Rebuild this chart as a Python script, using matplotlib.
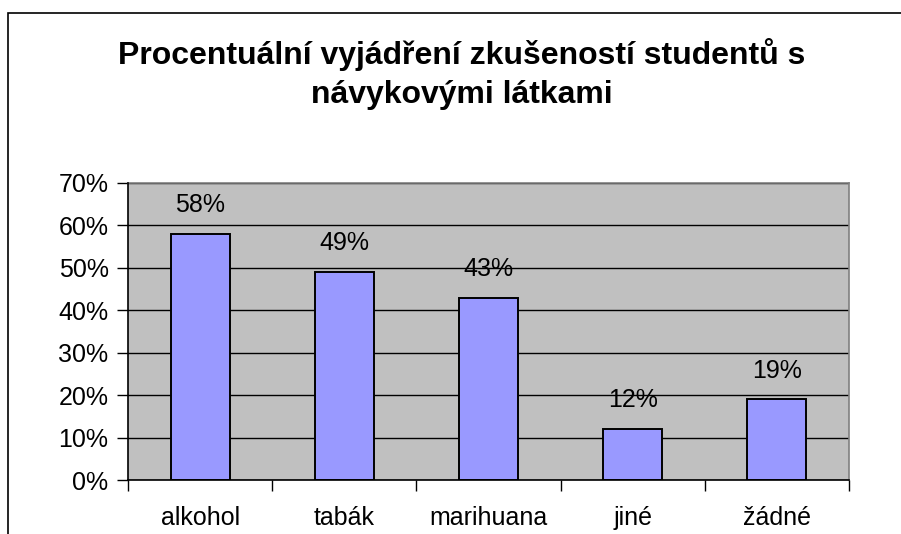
import matplotlib.pyplot as plt
from matplotlib.patches import Rectangle
from matplotlib.ticker import MultipleLocator, FuncFormatter

categories = ["alkohol", "tabák", "marihuana", "jiné", "žádné"]
values = [0.58, 0.49, 0.43, 0.12, 0.19]
labels = ["58%", "49%", "43%", "12%", "19%"]

title = "Procentuální vyjádření zkušeností studentů s\nnávykovými látkami"

plt.rcParams['font.family'] = ['Liberation Sans', 'DejaVu Sans']

W, H = 901, 534
fig = plt.figure(figsize=(W / 100, H / 100), dpi=100)

# outer chart border (runs off the right and bottom edges)
fig.patches.append(Rectangle((8 / W, -0.05), 1.2, 1 - 13 / H + 0.05,
                             transform=fig.transFigure, fill=False,
                             edgecolor='black', linewidth=1.2))

left, right, top, bottom = 128, 849, 183, 480
ax = fig.add_axes([left / W, 1 - bottom / H, (right - left) / W, (bottom - top) / H])
ax.set_facecolor('#C0C0C0')

x = range(len(categories))
ax.bar(x, values, width=0.41, color='#9999FF', edgecolor='black', linewidth=1.4, zorder=3)

for i, (v, lab) in enumerate(zip(values, labels)):
    ax.annotate(lab, (i, v), xytext=(0, 12), textcoords='offset points',
                ha='center', va='bottom', fontsize=18)

ax.set_xlim(-0.5, len(categories) - 0.5)
ax.set_ylim(0, 0.7)
ax.yaxis.set_major_locator(MultipleLocator(0.1))
ax.yaxis.set_major_formatter(FuncFormatter(lambda v, p: f"{v * 100:.0f}%"))
ax.grid(axis='y', color='black', linewidth=1.0, zorder=1)

ax.set_xticks([i + 0.5 for i in range(-1, len(categories))])
ax.set_xticklabels([])
ax.set_xticks(list(x), minor=True)
ax.set_xticklabels(categories, minor=True, fontsize=18)
ax.tick_params(axis='x', which='minor', length=0, pad=19)
ax.tick_params(axis='x', which='major', length=8, width=1, color='black', direction='out')
ax.tick_params(axis='y', length=8, width=1, labelsize=18, pad=6)

for side in ['top', 'right']:
    ax.spines[side].set_color('#808080')
    ax.spines[side].set_linewidth(1.2)
for side in ['left', 'bottom']:
    ax.spines[side].set_color('black')
    ax.spines[side].set_linewidth(1.2)
    ax.spines[side].set_zorder(4)

fig.text(462 / W, 1 - 74 / H, title, ha='center', va='center', fontsize=23,
         fontweight='bold', linespacing=1.35)

fig.savefig("out.png", dpi=100)
